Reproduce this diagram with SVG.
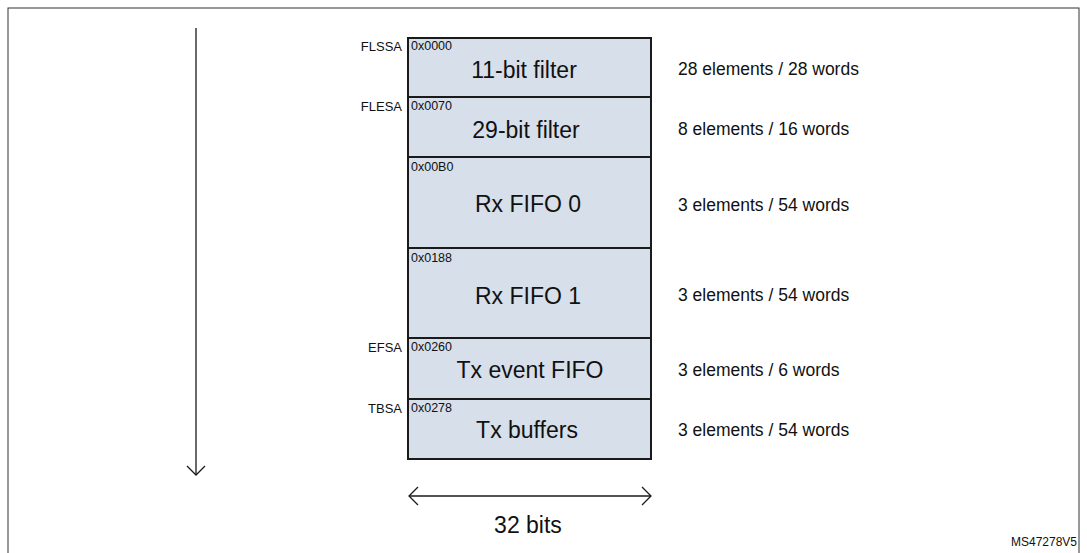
<svg xmlns="http://www.w3.org/2000/svg" width="1087" height="553" viewBox="0 0 1087 553">
<style>
text{font-family:"Liberation Sans",Arial,sans-serif;fill:#111}
.seg{fill:#d6dfea;stroke:#1a1a1a;stroke-width:2}
.t{font-size:23px;text-anchor:middle}
.a{font-size:12.5px}
.l{font-size:13px;text-anchor:end}
.r{font-size:17.5px}
.ln{stroke:#1a1a1a;stroke-width:1.3;fill:none}
</style>
<rect x="8" y="8" width="1071" height="560" fill="#fff" stroke="#333" stroke-width="1"/>
<g id="connectors">
<line class="ln" x1="196" y1="28" x2="196" y2="475"/>
<polyline class="ln" points="187,466 196,475 205,466"/>
<line class="ln" x1="409" y1="496" x2="651" y2="496"/>
<polyline class="ln" points="418,487 409,496 418,505"/>
<polyline class="ln" points="642,487 651,496 642,505"/>
</g>
<g id="n1"><rect class="seg" x="408" y="38" width="243" height="59"/><text class="a" x="411" y="50">0x0000</text><text class="t" x="524" y="78">11-bit filter</text><text class="l" x="402" y="51">FLSSA</text><text class="r" x="678" y="75">28 elements / 28 words</text></g>
<g id="n2"><rect class="seg" x="408" y="97" width="243" height="60"/><text class="a" x="411" y="110">0x0070</text><text class="t" x="526" y="138">29-bit filter</text><text class="l" x="402" y="111">FLESA</text><text class="r" x="678" y="135">8 elements / 16 words</text></g>
<g id="n3"><rect class="seg" x="408" y="157" width="243" height="91"/><text class="a" x="411" y="171">0x00B0</text><text class="t" x="528" y="212">Rx FIFO 0</text><text class="r" x="678" y="211">3 elements / 54 words</text></g>
<g id="n4"><rect class="seg" x="408" y="248" width="243" height="90"/><text class="a" x="411" y="262">0x0188</text><text class="t" x="528" y="304">Rx FIFO 1</text><text class="r" x="678" y="301">3 elements / 54 words</text></g>
<g id="n5"><rect class="seg" x="408" y="338" width="243" height="61"/><text class="a" x="411" y="351">0x0260</text><text class="t" x="530" y="378">Tx event FIFO</text><text class="l" x="402" y="352">EFSA</text><text class="r" x="678" y="376">3 elements / 6 words</text></g>
<g id="n6"><rect class="seg" x="408" y="399" width="243" height="60"/><text class="a" x="411" y="412">0x0278</text><text class="t" x="527" y="438">Tx buffers</text><text class="l" x="402" y="413">TBSA</text><text class="r" x="678" y="436">3 elements / 54 words</text></g>
<text x="528" y="533" style="font-size:23px;text-anchor:middle">32 bits</text>
<text x="1077" y="546" style="font-size:12px;text-anchor:end">MS47278V5</text>
</svg>
